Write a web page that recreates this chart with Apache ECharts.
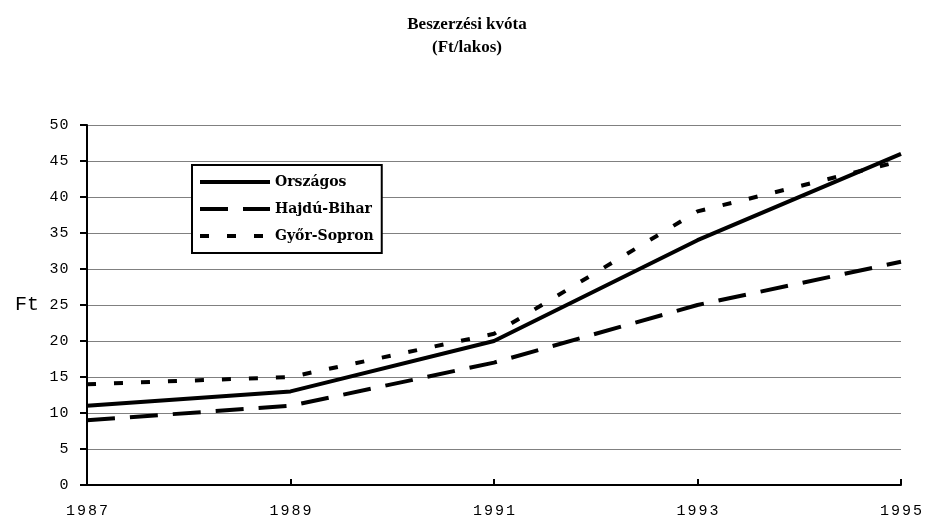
<!DOCTYPE html>
<html lang="hu">
<head>
    <meta charset="UTF-8">
    <title>Beszerzési kvóta</title>
    <style>
        html, body { margin: 0; padding: 0; background: #fff; }
        #chart { width: 934px; height: 525px; }
    </style>
</head>
<body>
<div id="chart"></div>
<script src="https://cdn.jsdelivr.net/npm/echarts@6/dist/echarts.min.js"></script>
<script>
    var years = ['1987', '1989', '1991', '1993', '1995'];
    var orszagos = [11, 13, 20, 34, 46];
    var hajduBihar = [9, 11, 17, 25, 31];
    var gyorSopron = [14, 15, 21, 38, 45];

    var chart = echarts.init(document.getElementById('chart'));

    // spread the digits like the old typewriter-style labels
    function spaced(value) {
        return String(value).split('').map(function (c) {
            return '{d|' + c + '}';
        }).join('');
    }

    var option = {
        animation: false,
        title: {
            text: 'Beszerzési kvóta\n(Ft/lakos)',
            left: 'center',
            top: 8,
            textStyle: {
                fontFamily: 'Liberation Serif',
                fontWeight: 'bold',
                fontSize: 17,
                lineHeight: 23,
                color: '#000'
            }
        },
        legend: {
            orient: 'vertical',
            left: 192,
            top: 165,
            padding: [10, 8, 10, 6],
            itemWidth: 70,
            itemHeight: 14,
            itemGap: 13,
            backgroundColor: '#fff',
            borderColor: '#000',
            borderWidth: 2,
            borderRadius: 0,
            itemStyle: { opacity: 0 },
            lineStyle: { width: 4 },
            textStyle: {
                fontFamily: 'DejaVu Serif',
                fontWeight: 'bold',
                fontSize: 14,
                color: '#000'
            },
            data: ['Országos', 'Hajdú-Bihar', 'Győr-Sopron']
        },
        grid: {
            left: 87,
            right: 33,
            top: 125,
            bottom: 40
        },
        xAxis: {
            type: 'category',
            boundaryGap: false,
            data: years,
            axisLine: { lineStyle: { color: '#000', width: 2 } },
            axisTick: { show: true, length: 6, inside: true, lineStyle: { color: '#000', width: 2 } },
            axisLabel: {
                margin: 19,
                formatter: spaced,
                rich: {
                    d: { width: 11, align: 'center', fontFamily: 'Liberation Mono', fontSize: 15, color: '#000' }
                }
            },
            splitLine: { show: false }
        },
        yAxis: {
            type: 'value',
            min: 0,
            max: 50,
            interval: 5,
            name: 'Ft',
            nameLocation: 'middle',
            nameRotate: 0,
            nameGap: 48,
            nameTextStyle: {
                fontFamily: 'Liberation Mono',
                fontSize: 20,
                color: '#000'
            },
            axisLine: { show: true, lineStyle: { color: '#000', width: 2 } },
            axisTick: { show: true, length: 7, lineStyle: { color: '#000', width: 2 } },
            axisLabel: {
                margin: 18,
                formatter: spaced,
                rich: {
                    d: { width: 10, align: 'center', fontFamily: 'Liberation Mono', fontSize: 15, color: '#000' }
                }
            },
            splitLine: { show: true, lineStyle: { color: '#808080', width: 1 } }
        },
        series: [
            {
                name: 'Országos',
                type: 'line',
                data: orszagos,
                symbol: 'none',
                lineStyle: { color: '#000', width: 4, type: 'solid' },
                itemStyle: { color: '#000' }
            },
            {
                name: 'Hajdú-Bihar',
                type: 'line',
                data: hajduBihar,
                symbol: 'none',
                lineStyle: { color: '#000', width: 4, type: [28, 15] },
                itemStyle: { color: '#000' }
            },
            {
                name: 'Győr-Sopron',
                type: 'line',
                data: gyorSopron,
                symbol: 'none',
                lineStyle: { color: '#000', width: 4, type: [9, 18] },
                itemStyle: { color: '#000' }
            }
        ]
    };

    chart.setOption(option);
</script>
</body>
</html>
